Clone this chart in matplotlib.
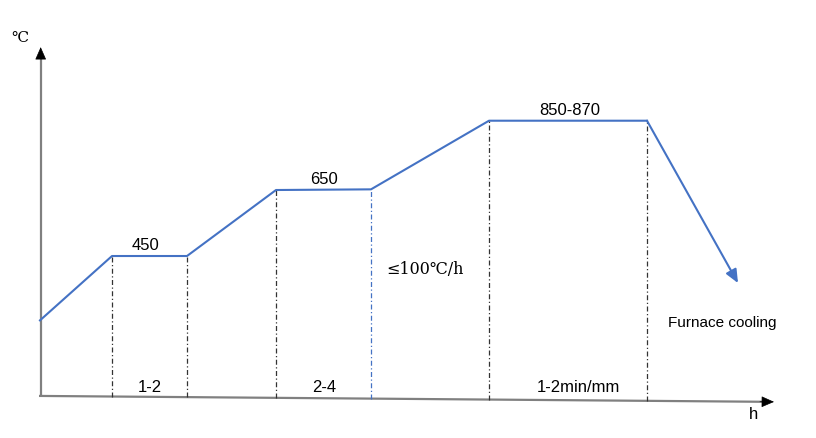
import matplotlib
matplotlib.use("Agg")
import matplotlib.pyplot as plt

# ---- data ----
time = [0, 72, 147, 236, 331, 449, 607]          # profile break points (arbitrary time units)
temp = [255, 450, 450, 650, 652, 860, 860]        # temperature, deg C
cool_end_time = 698
cool_end_temp = 368
vlines_time = [72, 147, 236, 331, 449, 607]
plateau_labels = ["450", "650", "850-870"]
plateau_label_pos = [(105, 450), (284, 651), (530, 860)]
hold_labels = ["1-2", "2-4", "1-2min/mm"]
hold_label_time = [110, 284, 538]

BLUE = "#4472C4"
AXIS = "#808080"

fig = plt.figure(figsize=(8.16, 4.38), dpi=100)
ax = fig.add_axes([0, 0, 1, 1])
ax.set_xlim(-40, 776)
ax.set_ylim(-101.5, 1225.8)
ax.axis("off")

font = ["Liberation Sans", "DejaVu Sans"]

# axes lines
x0, y0 = -1, 26
x1, y1 = 734, 8
ax.plot([x0, x1 - 8], [y0, y1 + 0.2], color=AXIS, lw=1.6, solid_capstyle="butt")
ax.annotate("", xy=(x1, y1), xytext=(x1 - 14, y1 + 0.4),
            arrowprops=dict(arrowstyle="-|>,head_length=0.8,head_width=0.35",
                            color="black", lw=0.5, shrinkA=0, shrinkB=0))
ax.plot([0.7, 0.7], [26, 1065], color=AXIS, lw=1.6, solid_capstyle="butt")
ax.annotate("", xy=(0.7, 1083), xytext=(0.7, 1050),
            arrowprops=dict(arrowstyle="-|>,head_length=0.8,head_width=0.35",
                            color="black", lw=0.5, shrinkA=0, shrinkB=0))
ax.text(-20, 1110, "℃", fontsize=11, ha="center", va="center", family=["DejaVu Serif"])
ax.text(713, -30, "h", fontsize=12, ha="center", va="center", family=font)

# profile
ax.plot(time, temp, color=BLUE, lw=1.5)
ax.annotate("", xy=(cool_end_time, cool_end_temp), xytext=(time[-1], temp[-1]),
            arrowprops=dict(arrowstyle="-|>,head_length=0.8,head_width=0.35",
                            color=BLUE, lw=1.5, shrinkA=0, shrinkB=0))

# vertical guide lines down to the slanted x axis
def axis_T(t):
    return y0 + (y1 - y0) * (t - x0) / (x1 - x0)

for i, t in enumerate(vlines_time):
    T_top = temp[i + 1]
    col = "#4472C4" if t == 331 else "#333333"
    ax.plot([t, t], [axis_T(t), T_top], color=col, lw=0.9, ls=(0, (4, 2, 1, 2)))

# labels
for lab, (t, T) in zip(plateau_labels, plateau_label_pos):
    ax.text(t, T + 8, lab, fontsize=12, ha="center", va="bottom", family=font)
for lab, t in zip(hold_labels, hold_label_time):
    ax.text(t, 30, lab, fontsize=12, ha="center", va="bottom", family=font)

ax.text(385, 408, "≤100℃/h", fontsize=11.5, ha="center", va="center",
        family=["DejaVu Serif", "Noto Sans CJK SC"])
ax.text(682, 247, "Furnace cooling", fontsize=11, ha="center", va="center", family=font)

fig.savefig("out.png", dpi=100)
